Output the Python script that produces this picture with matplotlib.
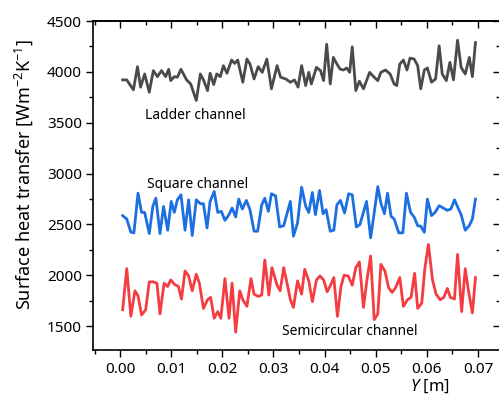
# Surface heat transfer along the channel for three channel shapes
import matplotlib.pyplot as plt
from matplotlib.ticker import MultipleLocator

plt.rcParams["font.family"] = ["Noto Sans", "DejaVu Sans"]
plt.rcParams["mathtext.fontset"] = "custom"
plt.rcParams["mathtext.rm"] = "Noto Sans"
plt.rcParams["mathtext.it"] = "Noto Sans:italic"

# ladder channel
ladder_y = [0.0005, 0.0013, 0.0026, 0.0034, 0.0040, 0.0048, 0.0057, 0.0065, 0.0073, 0.0081,
            0.0089, 0.0095, 0.0099, 0.0106, 0.0112, 0.0119, 0.0130, 0.0138, 0.0149, 0.0157,
            0.0163, 0.0171, 0.0176, 0.0183, 0.0189, 0.0196, 0.0202, 0.0209, 0.0218, 0.0224,
            0.0230, 0.0240, 0.0248, 0.0254, 0.0262, 0.0270, 0.0278, 0.0287, 0.0296, 0.0307,
            0.0314, 0.0324, 0.0333, 0.0341, 0.0348, 0.0355, 0.0363, 0.0369, 0.0374, 0.0384,
            0.0392, 0.0398, 0.0404, 0.0411, 0.0417, 0.0424, 0.0430, 0.0437, 0.0443, 0.0449,
            0.0454, 0.0461, 0.0468, 0.0476, 0.0488, 0.0497, 0.0504, 0.0510, 0.0519, 0.0528,
            0.0536, 0.0541, 0.0547, 0.0554, 0.0561, 0.0567, 0.0575, 0.0582, 0.0588, 0.0595,
            0.0601, 0.0609, 0.0617, 0.0624, 0.0630, 0.0638, 0.0645, 0.0652, 0.0660, 0.0667,
            0.0675, 0.0683, 0.0689, 0.0695]
ladder_h = [3921, 3921, 3823, 4051, 3849, 3979, 3800, 4012, 3953, 4012,
            3953, 4025, 3914, 3953, 3947, 4025, 3921, 3881, 3719, 3979,
            3921, 3816, 3986, 3875, 3979, 3953, 4061, 3986, 4116, 4083,
            4116, 3898, 4126, 4077, 3930, 4051, 3995, 4126, 3833, 4061,
            3947, 3930, 3898, 3920, 3850, 4061, 3865, 3995, 3881, 4044,
            4012, 3914, 4272, 3881, 4142, 4077, 4028, 4018, 4038, 3995,
            4246, 3816, 3908, 3833, 3995, 3947, 3914, 3995, 4018, 3979,
            3881, 3865, 4077, 4116, 4018, 4135, 4126, 4061, 3833, 4018,
            4038, 3898, 3930, 4256, 3979, 3914, 4093, 3921, 4311, 4044,
            3979, 4142, 3953, 4288]

# square channel
square_y = [0.0005, 0.0013, 0.0021, 0.0027, 0.0035, 0.0042, 0.0048, 0.0057, 0.0064, 0.0070,
            0.0078, 0.0085, 0.0093, 0.0100, 0.0106, 0.0112, 0.0119, 0.0127, 0.0134, 0.0141,
            0.0149, 0.0157, 0.0163, 0.0170, 0.0176, 0.0184, 0.0191, 0.0198, 0.0205, 0.0213,
            0.0219, 0.0226, 0.0232, 0.0239, 0.0247, 0.0254, 0.0262, 0.0269, 0.0277, 0.0283,
            0.0290, 0.0296, 0.0304, 0.0312, 0.0320, 0.0333, 0.0339, 0.0347, 0.0355, 0.0363,
            0.0369, 0.0376, 0.0382, 0.0390, 0.0397, 0.0403, 0.0411, 0.0418, 0.0424, 0.0431,
            0.0439, 0.0447, 0.0454, 0.0462, 0.0469, 0.0482, 0.0490, 0.0496, 0.0504, 0.0510,
            0.0517, 0.0523, 0.0530, 0.0536, 0.0545, 0.0553, 0.0560, 0.0568, 0.0575, 0.0582,
            0.0588, 0.0595, 0.0601, 0.0609, 0.0616, 0.0624, 0.0632, 0.0640, 0.0647, 0.0654,
            0.0662, 0.0667, 0.0675, 0.0683, 0.0689, 0.0695]
square_h = [2586, 2553, 2423, 2417, 2807, 2618, 2618, 2410, 2677, 2758,
            2410, 2677, 2443, 2726, 2618, 2742, 2791, 2443, 2742, 2391,
            2742, 2703, 2703, 2465, 2726, 2824, 2618, 2628, 2540, 2596,
            2661, 2573, 2749, 2651, 2736, 2644, 2433, 2433, 2693, 2758,
            2628, 2801, 2781, 2475, 2488, 2726, 2384, 2514, 2866, 2677,
            2618, 2814, 2596, 2833, 2605, 2644, 2433, 2443, 2693, 2736,
            2612, 2801, 2791, 2475, 2498, 2726, 2368, 2579, 2872, 2710,
            2605, 2807, 2579, 2553, 2417, 2417, 2807, 2618, 2573, 2488,
            2482, 2423, 2749, 2586, 2618, 2684, 2661, 2638, 2651, 2742,
            2651, 2596, 2443, 2488, 2553, 2749]

# semicircular channel
semi_y = [0.0005, 0.0013, 0.0021, 0.0029, 0.0035, 0.0042, 0.0050, 0.0057, 0.0065, 0.0072,
          0.0078, 0.0086, 0.0093, 0.0099, 0.0106, 0.0114, 0.0120, 0.0127, 0.0134, 0.0141,
          0.0149, 0.0155, 0.0163, 0.0171, 0.0177, 0.0184, 0.0191, 0.0197, 0.0205, 0.0213,
          0.0219, 0.0226, 0.0234, 0.0240, 0.0248, 0.0256, 0.0262, 0.0270, 0.0277, 0.0283,
          0.0291, 0.0297, 0.0307, 0.0313, 0.0320, 0.0326, 0.0333, 0.0339, 0.0347, 0.0355,
          0.0361, 0.0369, 0.0376, 0.0384, 0.0391, 0.0398, 0.0405, 0.0411, 0.0418, 0.0425,
          0.0432, 0.0438, 0.0446, 0.0454, 0.0461, 0.0468, 0.0476, 0.0483, 0.0490, 0.0497,
          0.0504, 0.0510, 0.0518, 0.0525, 0.0532, 0.0539, 0.0547, 0.0554, 0.0562, 0.0569,
          0.0576, 0.0582, 0.0590, 0.0596, 0.0603, 0.0611, 0.0618, 0.0626, 0.0633, 0.0640,
          0.0646, 0.0654, 0.0660, 0.0668, 0.0675, 0.0681, 0.0689, 0.0695]
semi_h = [1661, 2065, 1596, 1847, 1798, 1609, 1661, 1935, 1935, 1922,
          1619, 1922, 1889, 1954, 1912, 1889, 1766, 2042, 1993, 1847,
          2010, 1922, 1674, 1759, 1782, 1577, 1642, 1577, 1967, 1577,
          1922, 1440, 1847, 1759, 1694, 1967, 1814, 1792, 1805, 2150,
          1805, 2075, 1902, 1847, 2075, 1935, 1759, 1684, 1945, 1814,
          2058, 1945, 1740, 1954, 1993, 1954, 1837, 1896, 1977, 1596,
          1889, 2000, 1993, 1902, 2075, 2130, 1684, 1961, 2189, 1564,
          1619, 2107, 2042, 1879, 1831, 1879, 1977, 1694, 1759, 1782,
          2019, 1674, 1726, 2065, 2303, 1954, 1814, 1759, 1782, 1870,
          1782, 1766, 2205, 1642, 2065, 1857, 1629, 1977]

x_ticks = [0, 0.01, 0.02, 0.03, 0.04, 0.05, 0.06, 0.07]
x_labels = ["0.00", "0.01", "0.02", "0.03", "0.04", "0.05", "0.06", "0.07"]
y_ticks = [1500, 2000, 2500, 3000, 3500, 4000, 4500]

fig = plt.figure(figsize=(4.99, 3.94), dpi=100)
ax = fig.add_axes([0.1864, 0.1117, 0.8156, 0.8350])

ax.plot(ladder_y, ladder_h, color="#4a4a4a", lw=2.0)
ax.plot(square_y, square_h, color="#1c6fe0", lw=2.0)
ax.plot(semi_y, semi_h, color="#f43c41", lw=2.0)

ax.text(0.0147, 3572, "Ladder channel", fontsize=10, ha="center", va="center")
ax.text(0.0151, 2889, "Square channel", fontsize=10, ha="center", va="center")
ax.text(0.0450, 1446, "Semicircular channel", fontsize=10, ha="center", va="center")

ax.set_xlim(-0.0053, 0.0743)
ax.set_ylim(1265, 4500)
ax.set_xticks(x_ticks)
ax.set_xticklabels(x_labels)
ax.set_yticks(y_ticks)
ax.xaxis.set_minor_locator(MultipleLocator(0.005))
ax.yaxis.set_minor_locator(MultipleLocator(250))

for s in ax.spines.values():
    s.set_linewidth(1.2)
    s.set_color("black")

ax.tick_params(axis="both", which="both", labelsize=11, width=1.0, colors="black",
               direction="out")
ax.tick_params(axis="y", which="major", length=5, pad=3)
ax.tick_params(axis="y", which="minor", length=3)
ax.tick_params(axis="x", which="major", length=5, pad=4)
ax.tick_params(axis="x", which="minor", length=3)

# inward ticks without labels on the top and right
top = ax.secondary_xaxis("top")
top.set_xticks(x_ticks)
top.xaxis.set_minor_locator(MultipleLocator(0.005))
top.tick_params(which="both", direction="in", labeltop=False, width=1.0)
top.tick_params(which="major", length=5)
top.tick_params(which="minor", length=3)
top.spines["top"].set_linewidth(1.2)

right = ax.secondary_yaxis("right")
right.set_yticks(y_ticks)
right.yaxis.set_minor_locator(MultipleLocator(250))
right.tick_params(which="both", direction="in", labelright=False, width=1.0)
right.tick_params(which="major", length=5)
right.tick_params(which="minor", length=3)
right.spines["right"].set_linewidth(1.2)

ax.set_ylabel(r"Surface heat transfer [Wm$^{-2}$K$^{-1}$]", fontsize=13)
ax.yaxis.set_label_coords(-0.1425, 0.535)
ax.set_xlabel(r"$\mathit{Y}$ [m]", fontsize=12)
ax.xaxis.set_label_coords(0.828, -0.085)

fig.savefig("out.png", dpi=100)
